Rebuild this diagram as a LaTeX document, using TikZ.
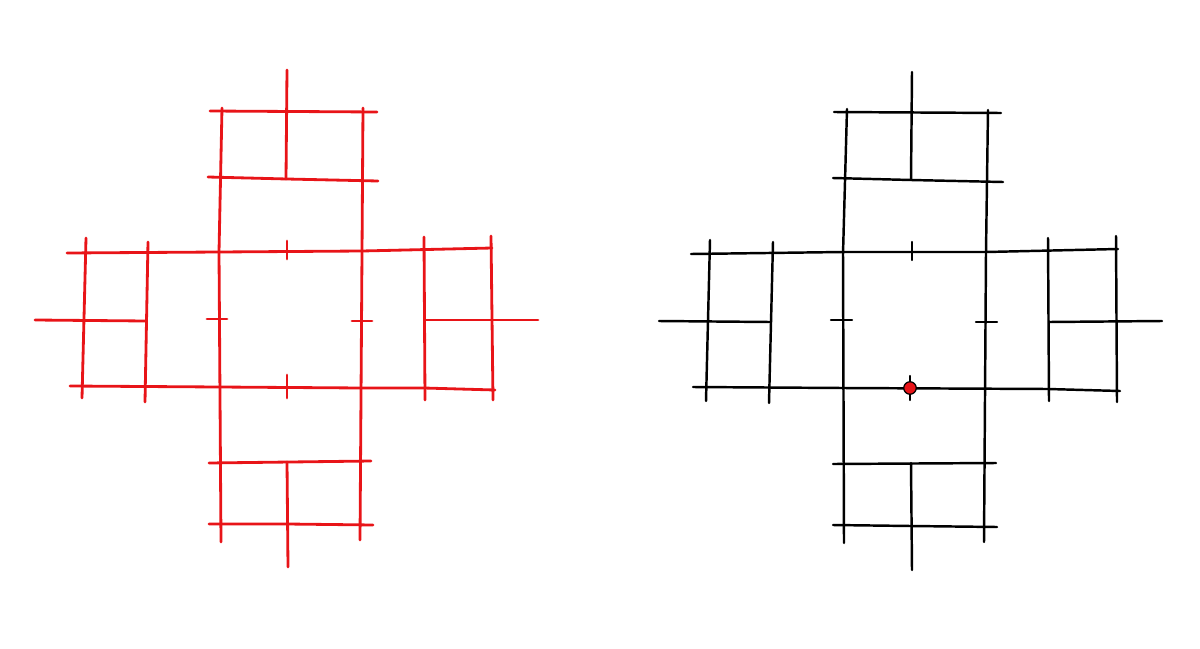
\documentclass[tikz,border=0pt]{standalone}
\usepackage{tikz}
\usetikzlibrary{positioning}
\definecolor{inkred}{RGB}{232,20,24}
\tikzset{
    redpen/.style = {
        draw,
        color=inkred,
        line width=1.6pt,
        line cap=round,
        line join=round
    },
    blackpen/.style = {
        draw,
        color=black,
        line width=1.4pt,
        line cap=round,
        line join=round
    },
    spot/.style = {
        draw,
        shape=circle,
        fill=inkred,
        inner sep=0pt,
        minimum size=0.25cm,
        line width=0.7pt
    },
}

\begin{document}
\begin{tikzpicture}[x=0.02cm, y=-0.02cm]
            \useasboundingbox (0,0) rectangle (1200,649);

            % red plan
            \path[redpen] (287,70) -- (286,179);
            \path[redpen] (222,108) -- (219,252) -- (221,542);
            \path[redpen] (363,108) -- (362,252) -- (360,540);
            \path[redpen] (287,462) -- (288,567);
            \path[redpen] (86,238) -- (82,398);
            \path[redpen] (148,242) -- (145,402);
            \path[redpen] (424,237) -- (425,400);
            \path[redpen] (491,236) -- (493,400);

            \path[redpen] (210,111) -- (377,112);
            \path[redpen] (208,177) -- (287,179) -- (378,181);
            \path[redpen] (67,253) -- (219,252) -- (362,251) -- (492,248);
            \path[redpen] (70,386) -- (219,387) -- (362,388) -- (424,388) -- (495,390);
            \path[redpen] (35,320) -- (146,321);
            \path[redpen] (425,320) -- (538,320);
            \path[redpen] (209,463) -- (371,461);
            \path[redpen] (209,524) -- (287,524) -- (373,525);

            \path[redpen] (287,241) -- (287,259);
            \path[redpen] (287,375) -- (287,398);
            \path[redpen] (207,319) -- (227,319);
            \path[redpen] (352,321) -- (372,321);

            % black plan
            \path[blackpen] (912,72) -- (911,180);
            \path[blackpen] (847,109) -- (843,254) -- (844,543);
            \path[blackpen] (988,110) -- (986,252) -- (984,542);
            \path[blackpen] (911,463) -- (912,570);
            \path[blackpen] (710,240) -- (706,401);
            \path[blackpen] (773,242) -- (769,403);
            \path[blackpen] (1048,238) -- (1049,401);
            \path[blackpen] (1116,236) -- (1117,402);

            \path[blackpen] (834,112) -- (1001,113);
            \path[blackpen] (833,178) -- (911,180) -- (1003,182);
            \path[blackpen] (691,254) -- (843,252) -- (986,252) -- (1118,249);
            \path[blackpen] (693,387) -- (843,388) -- (1048,389) -- (1120,391);
            \path[blackpen] (659,321) -- (770,322);
            \path[blackpen] (1049,322) -- (1162,321);
            \path[blackpen] (833,464) -- (996,463);
            \path[blackpen] (833,525) -- (911,526) -- (997,527);

            \path[blackpen] (912,242) -- (912,260);
            \path[blackpen] (910,376) -- (910,400);
            \path[blackpen] (831,320) -- (852,320);
            \path[blackpen] (976,322) -- (997,322);

            \node[spot] (mark) at (910,388) {};
        \end{tikzpicture}
\end{document}
